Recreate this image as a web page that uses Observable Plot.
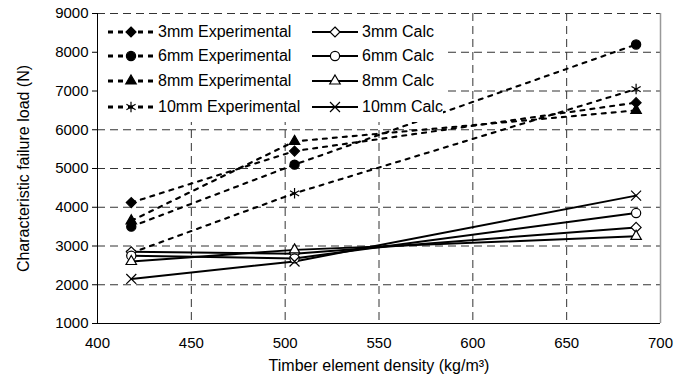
<!DOCTYPE html>
<html><head><meta charset="utf-8">
<script src="https://cdn.jsdelivr.net/npm/d3@7"></script>
<script src="https://cdn.jsdelivr.net/npm/@observablehq/plot@0.6"></script>
<style>
body{margin:0;background:#fff;font-family:Arial,"Liberation Sans",sans-serif}
#wrap{position:relative;width:681px;height:377px}
#legend{position:absolute;left:98px;top:14px;width:345px;height:108px;background:#fff}
.item{position:absolute;height:24px;display:flex;align-items:center;font-size:16px;color:#000;white-space:nowrap}
.item svg{margin-right:4px}
</style>
</head><body><div id="wrap"><div id="legend"></div></div>
<script>
// ---- data ----
const density = [418, 505, 687];
const seriesLabels = ["3mm Experimental","6mm Experimental","8mm Experimental","10mm Experimental","3mm Calc","6mm Calc","8mm Calc","10mm Calc"];
const exp3mm = [4120, 5450, 6700];
const exp6mm = [3500, 5100, 8200];
const exp8mm = [3650, 5700, 6500];
const exp10mm = [2820, 4360, 7050];
const calc3mm = [2850, 2800, 3480];
const calc6mm = [2750, 2680, 3850];
const calc8mm = [2600, 2900, 3250];
const calc10mm = [2150, 2600, 4300];
const xTicks = [400, 450, 500, 550, 600, 650, 700];
const yTicks = [1000, 2000, 3000, 4000, 5000, 6000, 7000, 8000, 9000];

const seriesValues = [exp3mm, exp6mm, exp8mm, exp10mm, calc3mm, calc6mm, calc8mm, calc10mm];
const symbols = ["diamond2","circle","triangle2","asterisk","diamond2","circle","triangle2","times"];
const symbolR = {diamond2: 4.5, circle: 4.6, triangle2: 5, asterisk: 5, times: 4.6};
const series = seriesLabels.map((name, i) => ({
  name, symbol: symbols[i], exp: i < 4,
  rows: density.map((x, j) => ({x, y: seriesValues[i][j], name}))
}));
const fillOf = s => (s.symbol === "asterisk" || s.symbol === "times") ? "none" : (s.exp ? "#000" : "#fff");

const marks = [
  Plot.gridX(xTicks.filter(d => d > 400 && d < 700), {stroke: "#333", strokeOpacity: 1, strokeDasharray: "8,5"}),
  Plot.gridY(yTicks.filter(d => d > 1000), {stroke: "#333", strokeOpacity: 1, strokeDasharray: "8,5"}),
  Plot.ruleX([700], {stroke: "#999", strokeWidth: 1.5}),
  Plot.ruleX([400], {stroke: "#000"}),
  Plot.ruleY([1000], {stroke: "#000"}),
  Plot.axisY({ticks: yTicks, tickSize: 5, tickPadding: 4, tickFormat: d3.format("d"), label: null}),
  Plot.axisX({ticks: xTicks, tickSize: 0, tickPadding: 14, tickFormat: d3.format("d"), label: null}),
  Plot.text(["Characteristic failure load (N)"], {frameAnchor: "left", textAnchor: "middle", rotate: -90, dx: -74, fontSize: 16}),
  Plot.text(["Timber element density (kg/m³)"], {frameAnchor: "bottom", textAnchor: "middle", dy: 47, fontSize: 16})
];
for (const s of series) {
  if (s.exp) marks.push(Plot.line(s.rows, {x: "x", y: "y", stroke: "#000", strokeWidth: 2.1, strokeDasharray: "4,6"}));
  else marks.push(Plot.line(s.rows, {x: "x", y: "y", stroke: "#000", strokeWidth: 2}));
}
for (const s of series) {
  marks.push(Plot.dot(s.rows, {x: "x", y: "y", symbol: s.symbol, r: symbolR[s.symbol],
    fill: fillOf(s), stroke: "#000", strokeWidth: 1.2}));
}

const chart = Plot.plot({
  width: 681, height: 377,
  marginLeft: 97, marginRight: 21, marginTop: 13, marginBottom: 54,
  x: {domain: [400, 700]},
  y: {domain: [1000, 9000]},
  style: {fontFamily: "Arial, 'Liberation Sans', sans-serif", fontSize: "15px", color: "#000", background: "#fff"},
  marks
});
const wrap = document.getElementById("wrap");
wrap.insertBefore(chart, wrap.firstChild);

// legend (HTML overlay)
const legend = document.getElementById("legend");
const rowTops = [6, 30, 55, 81];
const symMap = {diamond2: d3.symbolDiamond2, circle: d3.symbolCircle, triangle2: d3.symbolTriangle2, asterisk: d3.symbolAsterisk, times: d3.symbolTimes};
series.forEach((s, i) => {
  const col = s.exp ? 0 : 1, row = i % 4;
  const div = document.createElement("div");
  div.className = "item";
  div.style.left = (col === 0 ? 10 : 214) + "px";
  div.style.top = rowTops[row] + "px";
  const w = 46;
  const svg = d3.create("svg").attr("width", w).attr("height", 24);
  svg.append("line").attr("x1", 0).attr("x2", w).attr("y1", 12).attr("y2", 12)
    .attr("stroke", "#000").attr("stroke-width", s.exp ? 3 : 2).attr("stroke-dasharray", s.exp ? "5,5" : null);
  const r = symbolR[s.symbol];
  svg.append("path").attr("transform", `translate(${w/2},12)`)
    .attr("d", d3.symbol(symMap[s.symbol], Math.PI * r * r)())
    .attr("fill", fillOf(s))
    .attr("stroke", "#000").attr("stroke-width", 1.2);
  div.appendChild(svg.node());
  div.appendChild(document.createTextNode(s.name));
  legend.appendChild(div);
});
</script>
</body></html>
